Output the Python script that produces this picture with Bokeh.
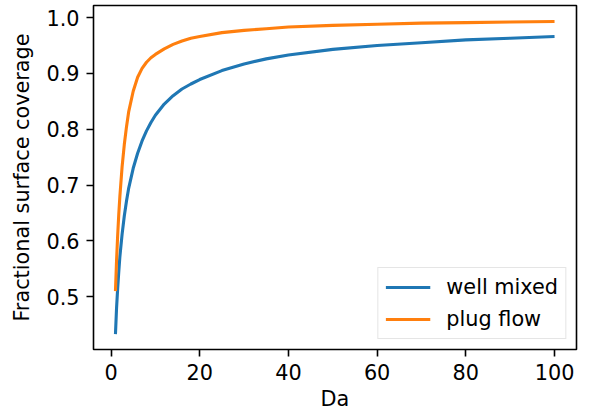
from bokeh.plotting import figure
from bokeh.models import Range1d, FixedTicker, NumeralTickFormatter, Legend, LegendItem
from bokeh.embed import file_html
from bokeh.resources import INLINE

# Data
da = [1, 1.25, 1.5, 1.75, 2, 2.5, 3, 3.5, 4, 5, 6, 7, 8, 9, 10, 12, 14, 16, 18, 20,
      25, 30, 35, 40, 50, 60, 70, 80, 90, 100]
well_mixed = [0.433, 0.480, 0.515, 0.545, 0.572, 0.612, 0.645, 0.672, 0.695, 0.730,
              0.757, 0.779, 0.797, 0.812, 0.825, 0.845, 0.860, 0.872, 0.881, 0.889,
              0.905, 0.917, 0.926, 0.933, 0.943, 0.950, 0.955, 0.960, 0.963, 0.966]
plug_flow = [0.510, 0.565, 0.610, 0.648, 0.680, 0.733, 0.773, 0.805, 0.832, 0.868,
             0.893, 0.909, 0.920, 0.928, 0.934, 0.944, 0.952, 0.958, 0.963, 0.966,
             0.973, 0.977, 0.980, 0.983, 0.986, 0.988, 0.990, 0.991, 0.992, 0.993]
x_ticks = [0, 20, 40, 60, 80, 100]
y_ticks = [0.5, 0.6, 0.7, 0.8, 0.9, 1.0]

FONT = "DejaVu Sans"
FS = "20.8px"

p = figure(width=590, height=418, output_backend="svg", toolbar_location=None,
           x_range=Range1d(-3.95, 104.95), y_range=Range1d(0.4054, 1.0216),
           min_border_left=93, min_border_right=14, min_border_top=5, min_border_bottom=69)

p.background_fill_color = "white"
p.border_fill_color = "white"
p.grid.visible = False
p.outline_line_color = "black"
p.outline_line_width = 1.6

r1 = p.line(da, well_mixed, line_color="#1f77b4", line_width=3.1)
r2 = p.line(da, plug_flow, line_color="#ff7f0e", line_width=3.1)

for ax in (p.xaxis[0], p.yaxis[0]):
    ax.axis_line_color = None
    ax.major_tick_line_color = "black"
    ax.major_tick_line_width = 1.6
    ax.major_tick_out = 7
    ax.major_tick_in = 0
    ax.minor_tick_line_color = None
    ax.major_label_standoff = 7
    ax.major_label_text_font = FONT
    ax.major_label_text_font_size = FS
    ax.major_label_text_color = "black"
    ax.axis_label_text_font = FONT
    ax.axis_label_text_font_size = FS
    ax.axis_label_text_font_style = "normal"
    ax.axis_label_text_color = "black"

p.xaxis[0].ticker = FixedTicker(ticks=x_ticks)
p.yaxis[0].ticker = FixedTicker(ticks=y_ticks)
p.yaxis[0].formatter = NumeralTickFormatter(format="0.0")
p.xaxis[0].axis_label = "Da"
p.yaxis[0].axis_label = "Fractional surface coverage"
p.xaxis[0].axis_label_standoff = 4
p.yaxis[0].axis_label_standoff = 9

legend = Legend(items=[LegendItem(label="well mixed", renderers=[r1]),
                       LegendItem(label="plug flow", renderers=[r2])],
                location="bottom_right", margin=10, padding=7, spacing=8,
                glyph_width=45, glyph_height=20, label_height=20, label_standoff=16,
                label_text_font=FONT, label_text_font_size=FS, label_text_color="black",
                border_line_color="#cccccc", border_line_width=1.6,
                background_fill_color="white", background_fill_alpha=0.8)
p.add_layout(legend, "center")

open("out.html", "w").write(file_html(p, INLINE))
